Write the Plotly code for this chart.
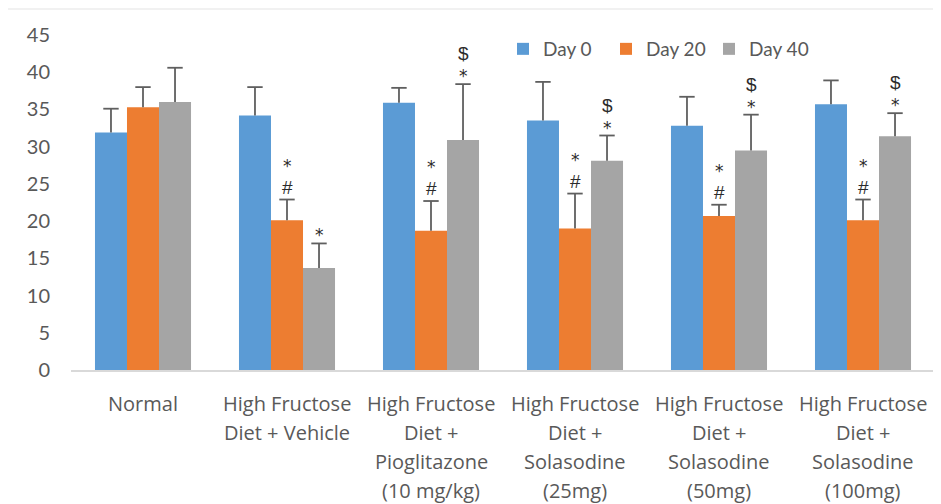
import plotly.graph_objects as go

# ---------------- data ----------------
categories = ["Normal", "HFD+Vehicle", "HFD+Pio", "HFD+Sol25", "HFD+Sol50", "HFD+Sol100"]
category_lines = [
    ["Normal"],
    ["High Fructose", "Diet + Vehicle"],
    ["High Fructose", "Diet +", "Pioglitazone", "(10 mg/kg)"],
    ["High Fructose", "Diet +", "Solasodine", "(25mg)"],
    ["High Fructose", "Diet +", "Solasodine", "(50mg)"],
    ["High Fructose", "Diet +", "Solasodine", "(100mg)"],
]
series_names = ["Day 0", "Day 20", "Day 40"]
day0 = [31.9, 34.2, 35.9, 33.5, 32.8, 35.7]
day0_err = [3.2, 3.8, 2.0, 5.2, 3.9, 3.2]
day20 = [35.3, 20.1, 18.7, 19.0, 20.7, 20.1]
day20_err = [2.7, 2.8, 4.0, 4.7, 1.5, 2.8]
day40 = [36.0, 13.7, 30.9, 28.1, 29.5, 31.4]
day40_err = [4.6, 3.3, 7.5, 3.4, 4.8, 3.1]
# significance marks, listed top line first
day0_marks = ["", "", "", "", "", ""]
day20_marks = ["", "*#", "*#", "*#", "*#", "*#"]
day40_marks = ["", "*", "$*", "$*", "$*", "$*"]
y_ticks = [0, 5, 10, 15, 20, 25, 30, 35, 40, 45]

# ---------------- style ----------------
colors = ["#5B9BD5", "#ED7D31", "#A5A5A5"]
txt = "#595959"
err_col = "#5f5f5f"
# the page body has an 8px margin, so the figure is sized to fit the 941x504 window
W, H = 933, 496
ml, mr, mt, mb = 63, 6, 27, 134
gap = 0.333
bar_px = 32  # bar width in px, used to place marks over each bar

values = [day0, day20, day40]
errors = [day0_err, day20_err, day40_err]
marks = [day0_marks, day20_marks, day40_marks]

fig = go.Figure()
for k, (name, v, c) in enumerate(zip(series_names, values, colors)):
    fig.add_trace(go.Bar(
        x=categories, y=v, name=name, offsetgroup=str(k),
        marker=dict(color=c, line=dict(width=0)),
    ))
# upward-only error bars: cap marker at the top, whisker drawn down to the bar
for k, (name, v, e) in enumerate(zip(series_names, values, errors)):
    fig.add_trace(go.Scatter(
        x=categories, y=[a + b for a, b in zip(v, e)], mode="markers", offsetgroup=str(k),
        showlegend=False, hoverinfo="skip",
        marker=dict(symbol="line-ew", size=11, color=err_col, line=dict(color=err_col, width=1.8)),
        error_y=dict(type="data", symmetric=False, array=[0] * len(e), arrayminus=e,
                     color=err_col, thickness=1.8, width=0),
    ))


def sym_html(ch):
    if ch == "*":
        return "<span style='font-family:DejaVu Sans;font-size:17px'>*</span>"
    return "<span style='font-size:19px'>" + ch + "</span>"


annotations = []
for s_idx, (v, e, mk) in enumerate(zip(values, errors, marks)):
    for ci, cat in enumerate(categories):
        if not mk[ci]:
            continue
        annotations.append(dict(
            x=cat, y=v[ci] + e[ci], xref="x", yref="y",
            text="<br>".join(sym_html(ch) for ch in mk[ci]), showarrow=False,
            xshift=(s_idx - 1) * bar_px, yshift=-4 if mk[ci].endswith("*") else 0,
            yanchor="bottom",
            font=dict(family="Liberation Sans", size=17, color="#2b2b2b"),
        ))
# category labels (multi-line, wide line spacing)
for cat, lines in zip(categories, category_lines):
    for i, line in enumerate(lines):
        annotations.append(dict(
            x=cat, y=0, xref="x", yref="paper", text=line, showarrow=False,
            yanchor="middle", yshift=-33 - 29 * i,
            font=dict(family="Open Sans", size=20, color=txt),
        ))

ph = H - mt - mb
pw = W - ml - mr
fig.update_layout(
    width=W, height=H,
    margin=dict(l=ml, r=mr, t=mt, b=mb),
    paper_bgcolor="white", plot_bgcolor="white",
    barmode="group", bargap=gap, bargroupgap=0,
    scattermode="group", scattergap=gap,
    font=dict(family="Lato", color=txt),
    legend=dict(orientation="h", x=0.5, y=1 - (49 - 8 - mt) / ph, xanchor="left", yanchor="middle",
                font=dict(size=19, color=txt, family="Lato"), bgcolor="rgba(0,0,0,0)",
                entrywidth=58, itemclick=False, traceorder="normal"),
    xaxis=dict(showticklabels=False, showline=True, linecolor="#d9d9d9", linewidth=1.5,
               showgrid=False, ticks="", zeroline=False),
    yaxis=dict(range=[0, 45], tickvals=y_ticks, showgrid=False, zeroline=False, showline=False,
               ticks="", ticklabelstandoff=20, tickfont=dict(size=20, color=txt, family="Lato")),
    annotations=annotations,
    shapes=[dict(type="line", xref="paper", yref="paper",
                 x0=-ml / pw, x1=1 + mr / pw,
                 y0=1 + (mt - 1) / ph, y1=1 + (mt - 1) / ph,
                 line=dict(color="#ececec", width=1.5))],
)

fig.write_html("out.html")
